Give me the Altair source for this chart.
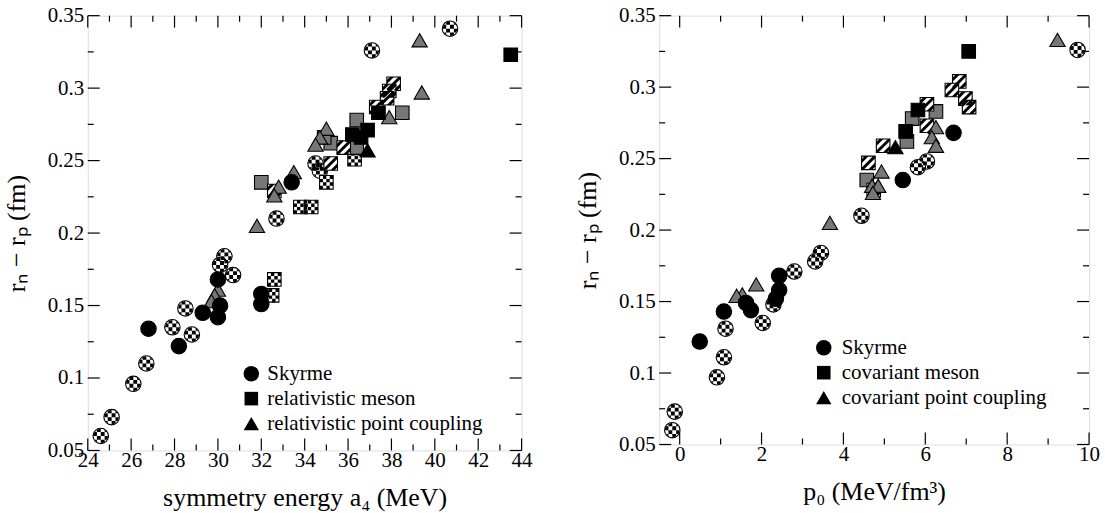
import altair as alt
import pandas as pd

FONT = "Liberation Serif"

# ---------------- Left panel: r_n - r_p versus symmetry energy a4 ----------------
left_x = [33.4, 30.0, 30.1, 30.0, 29.3, 32.0, 32.0, 26.8, 28.2,
          40.7, 37.1, 34.5, 34.7, 32.7, 30.3, 30.1, 30.7, 28.5, 27.9, 28.8, 26.7, 26.1, 25.1, 24.6,
          43.5, 37.4, 36.2, 36.9, 36.6,
          38.1, 37.9, 37.8, 37.3, 35.8, 35.2, 32.6,
          38.5, 36.4, 35.2, 34.9, 36.4, 32.0,
          36.3, 35.0, 33.8, 34.3, 32.6, 32.5,
          39.3, 39.4, 37.9, 35.0, 34.7, 34.5, 33.5, 32.8, 32.6, 31.8, 30.0, 29.85, 29.7,
          36.9]
left_y = [0.235, 0.168, 0.150, 0.142, 0.145, 0.158, 0.151, 0.134, 0.122,
          0.341, 0.326, 0.248, 0.243, 0.210, 0.184, 0.178, 0.171, 0.148, 0.135, 0.130, 0.110, 0.096, 0.073, 0.060,
          0.323, 0.283, 0.268, 0.271, 0.266,
          0.303, 0.298, 0.293, 0.287, 0.259, 0.248, 0.229,
          0.283, 0.278, 0.262, 0.266, 0.259, 0.235,
          0.251, 0.235, 0.218, 0.218, 0.168, 0.157,
          0.333, 0.297, 0.280, 0.272, 0.266, 0.261, 0.242, 0.232, 0.226, 0.205, 0.161, 0.157, 0.153,
          0.257]
left_family = (["S"] * 9 + ["S"] * 15 + ["M"] * 5 + ["M"] * 7 + ["M"] * 6 + ["M"] * 6
               + ["P"] * 13 + ["P"] * 1)
left_style = (["solid"] * 9 + ["checker"] * 15 + ["solid"] * 5 + ["hatch"] * 7 + ["gray"] * 6
              + ["checker"] * 6 + ["gray"] * 13 + ["solid"] * 1)

# ---------------- Right panel: r_n - r_p versus p0 ----------------
right_x = [6.69, 5.45, 2.43, 2.43, 2.35, 1.62, 1.74, 1.08, 0.49,
           9.72, 6.04, 5.82, 4.44, 3.45, 3.31, 2.80, 2.29, 2.03, 1.12, 1.08, 0.91, -0.12, -0.18,
           7.06, 5.82, 5.52,
           6.83, 6.65, 6.98, 7.07, 6.04, 6.04, 4.97, 4.61, 4.74,
           6.26, 5.68, 5.55, 4.57,
           9.23, 6.26, 6.16, 6.26, 4.93, 4.70, 4.85, 4.72, 3.67, 1.87, 1.53, 1.39,
           5.27]
right_y = [0.268, 0.235, 0.168, 0.158, 0.152, 0.149, 0.144, 0.143, 0.122,
           0.326, 0.248, 0.244, 0.210, 0.184, 0.178, 0.171, 0.148, 0.135, 0.131, 0.111, 0.097, 0.073, 0.060,
           0.325, 0.284, 0.269,
           0.304, 0.298, 0.292, 0.286, 0.288, 0.273, 0.259, 0.247, 0.228,
           0.283, 0.278, 0.262, 0.235,
           0.333, 0.272, 0.265, 0.259, 0.241, 0.231, 0.231, 0.226, 0.205, 0.162, 0.155, 0.154,
           0.258]
right_family = ["S"] * 9 + ["S"] * 14 + ["M"] * 3 + ["M"] * 9 + ["M"] * 4 + ["P"] * 12 + ["P"] * 1
right_style = (["solid"] * 9 + ["checker"] * 14 + ["solid"] * 3 + ["hatch"] * 9 + ["gray"] * 4
               + ["gray"] * 12 + ["solid"] * 1)

# ---------------- axes ----------------
left_x_major = [24, 26, 28, 30, 32, 34, 36, 38, 40, 42, 44]
left_x_minor = [25, 27, 29, 31, 33, 35, 37, 39, 41, 43]
right_x_major = [0, 2, 4, 6, 8, 10]
right_x_minor = [1, 3, 5, 7, 9]
y_major = [0.05, 0.1, 0.15, 0.2, 0.25, 0.3, 0.35]
y_minor = [0.075, 0.125, 0.175, 0.225, 0.275, 0.325]

left_legend = ["Skyrme", "relativistic meson", "relativistic point coupling"]
right_legend = ["Skyrme", "covariant meson", "covariant point coupling"]
families = ["S", "M", "P"]

Y_TITLE = "rₙ − rₚ (fm)"

# ---------------- marker styling ----------------
SHAPE = {"S": "circle", "M": "square", "P": "triangle-up"}
SIZE = {"S": 240, "M": 185, "P": 235}
FILL = {"solid": "black", "checker": "white", "hatch": "white", "gray": "#777777"}


def clip_poly(poly, a, b, c):
    """keep part of polygon with a*x + b*y <= c"""
    out = []
    n = len(poly)
    for i in range(n):
        p, q = poly[i], poly[(i + 1) % n]
        fp = a * p[0] + b * p[1] - c
        fq = a * q[0] + b * q[1] - c
        if fp <= 0:
            out.append(p)
        if fp * fq < 0:
            t = fp / (fp - fq)
            out.append((p[0] + t * (q[0] - p[0]), p[1] + t * (q[1] - p[1])))
    return out


def to_path(polys):
    s = ""
    for poly in polys:
        if len(poly) < 3:
            continue
        s += "M" + "L".join(f"{x:.3f},{y:.3f}" for x, y in poly) + "Z"
    return s


def checker_path(n=4, radius=None):
    polys = []
    step = 2.0 / n
    for i in range(n):
        for j in range(n):
            if (i + j) % 2 != 1:
                continue
            x0, y0 = -1 + i * step, -1 + j * step
            x1, y1 = x0 + step, y0 + step
            pts = []
            m = 6
            for k in range(m):
                pts.append((x0 + (x1 - x0) * k / m, y0))
            for k in range(m):
                pts.append((x1, y0 + (y1 - y0) * k / m))
            for k in range(m):
                pts.append((x1 - (x1 - x0) * k / m, y1))
            for k in range(m):
                pts.append((x0, y1 - (y1 - y0) * k / m))
            if radius is not None:
                proj = []
                for (px, py) in pts:
                    d = (px * px + py * py) ** 0.5
                    if d > radius:
                        px, py = px * radius / d, py * radius / d
                    proj.append((px, py))
                pts = proj
            polys.append(pts)
    return to_path(polys)


def hatch_path():
    square = [(-1, -1), (1, -1), (1, 1), (-1, 1)]
    polys = []
    for c1, c2 in [(-1.55, -0.95), (-0.3, 0.3), (0.95, 1.55)]:
        p = clip_poly(square, 1, 1, c2)
        p = clip_poly(p, -1, -1, -c1)
        polys.append(p)
    return to_path(polys)


PATTERN = {
    ("S", "checker"): checker_path(4, 0.93),
    ("M", "checker"): checker_path(4),
    ("M", "hatch"): hatch_path(),
}

DRAW_ORDER = [("S", "checker"), ("M", "checker"), ("M", "gray"), ("M", "hatch"),
              ("P", "gray"), ("M", "solid"), ("P", "solid"), ("S", "solid")]


def panel(xs, ys, fams, styles, xdom, w, h, xtitle, xmaj, xmin, labels, leg_mx, leg_tx, leg_rows):
    df = pd.DataFrame({"x": xs, "y": ys, "fam": fams, "sty": styles})
    xsc = alt.Scale(domain=xdom, nice=False, zero=False)
    ysc = alt.Scale(domain=[0.05, 0.35], nice=False, zero=False)
    xax = alt.Axis(title=xtitle, values=xmaj, format="d", labelFlush=False, ticks=False, tickSize=0,
                   domain=False, grid=False, labelPadding=-1, titlePadding=14, titleFontSize=26,
                   labelFontSize=21, labelFont=FONT, titleFont=FONT, labelColor="black",
                   titleColor="black", titleFontWeight="normal", labelOverlap=False)
    yax = alt.Axis(title=Y_TITLE, values=y_major, format=".2~f", labelFlush=False, ticks=False,
                   tickSize=0, domain=False, grid=False, labelPadding=4, titlePadding=18,
                   titleFontSize=26, labelFontSize=21, labelFont=FONT, titleFont=FONT,
                   labelColor="black", titleColor="black", titleFontWeight="normal",
                   labelOverlap=False)

    layers = []
    for fam, sty in DRAW_ORDER:
        sub = df[(df.fam == fam) & (df.sty == sty)]
        if len(sub) == 0:
            continue
        enc = dict(x=alt.X("x:Q", scale=xsc, axis=xax), y=alt.Y("y:Q", scale=ysc, axis=yax))
        layers.append(alt.Chart(sub).mark_point(shape=SHAPE[fam], size=SIZE[fam], filled=True,
                                                fill=FILL[sty], stroke="black", strokeWidth=1.1,
                                                opacity=1).encode(**enc))
        if (fam, sty) in PATTERN:
            layers.append(alt.Chart(sub).mark_point(shape=PATTERN[(fam, sty)], size=SIZE[fam],
                                                    filled=True, fill="black", opacity=1)
                          .encode(**enc))

    # inward ticks on all four sides
    def xt(vals, L):
        d = pd.DataFrame({"v": vals})
        X = alt.X("v:Q", scale=xsc, axis=xax)
        return [alt.Chart(d).mark_rule(color="black", strokeWidth=1.2)
                .encode(x=X, y=alt.value(h), y2=alt.value(h - L)),
                alt.Chart(d).mark_rule(color="black", strokeWidth=1.2)
                .encode(x=X, y=alt.value(0), y2=alt.value(L))]

    def yt(vals, L):
        d = pd.DataFrame({"v": vals})
        Y = alt.Y("v:Q", scale=ysc, axis=yax)
        return [alt.Chart(d).mark_rule(color="black", strokeWidth=1.2)
                .encode(y=Y, x=alt.value(0), x2=alt.value(L)),
                alt.Chart(d).mark_rule(color="black", strokeWidth=1.2)
                .encode(y=Y, x=alt.value(w), x2=alt.value(w - L))]

    layers += xt(xmaj, 12) + xt(xmin, 6) + yt(y_major, 12) + yt(y_minor, 6)

    # legend
    one = pd.DataFrame({"a": [0]})
    for fam, label, ry in zip(families, labels, leg_rows):
        layers.append(alt.Chart(one).mark_point(shape=SHAPE[fam], size=SIZE[fam], filled=True,
                                                fill="black", opacity=1)
                      .encode(x=alt.value(leg_mx), y=alt.value(ry)))
        layers.append(alt.Chart(one).mark_text(align="left", baseline="middle", font=FONT,
                                               fontSize=21, color="black")
                      .encode(x=alt.value(leg_tx), y=alt.value(ry), text=alt.value(label)))

    return alt.layer(*layers).properties(width=w, height=h)


left = panel(left_x, left_y, left_family, left_style, [24, 44], 435, 436,
             "symmetry energy a₄ (MeV)", left_x_major, left_x_minor, left_legend,
             164, 180, [359, 384, 409])
right = panel(right_x, right_y, right_family, right_style, [-0.5, 10], 431, 430,
              "p₀ (MeV/fm³)", right_x_major, right_x_minor, right_legend,
              165, 183, [333, 358, 383])

chart = (alt.hconcat(left, right, spacing=138, bounds="flush")
         .properties(padding={"left": 2, "top": 3, "right": 5, "bottom": 2})
         .configure_view(stroke="black", strokeWidth=1.5)
         .configure(font=FONT, background="white"))

chart.save("out.html", embed_options={"renderer": "svg", "actions": False})
